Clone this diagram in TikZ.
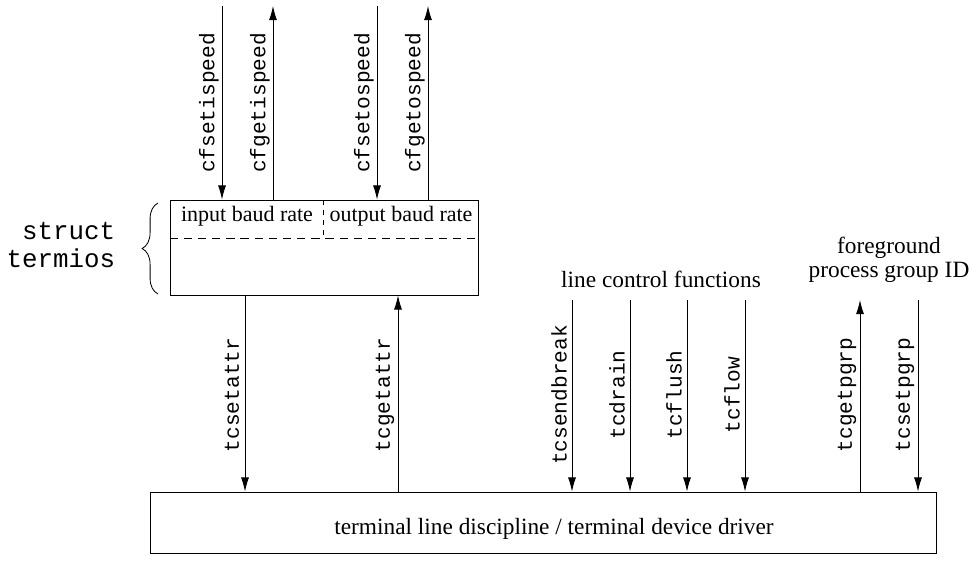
\documentclass[tikz,border=0pt]{standalone}
\usepackage{fontspec}
\setmainfont{Liberation Serif}
\setmonofont{Liberation Mono}
\usetikzlibrary{arrows.meta,decorations.pathreplacing,positioning}

\begin{document}
\begin{tikzpicture}[x=0.6pt,y=-0.6pt,line width=.5pt,
  call/.style={-{Latex[length=8.5pt,width=4.8pt]}},
  fn/.style={font=\fontsize{12.7}{14}\ttfamily,rotate=90},
  txt/.style={font=\fontsize{14}{14.6}\selectfont,align=center},
  field/.style={font=\fontsize{13.2}{14}\selectfont}]
\useasboundingbox (0,0) rectangle (974,569);
% the two boxes
\node[draw,minimum width=184.8pt,minimum height=57pt] (termios) at (324,247.5) {};
\node[draw,minimum width=471.6pt,minimum height=36.6pt] (driver) at (543,522.5) {};
\node[txt] (drvtxt) at (554,529) {terminal line discipline / terminal device driver};
% baud rate fields
\draw[dash pattern=on 5pt off 3.5pt] (termios.west |- 0,238) -- (termios.east |- 0,238);
\draw[dash pattern=on 3pt off 3pt] (termios.north -| 323,0) -- (323,238);
\node[field] (ibr) at (247,216) {input baud rate};
\node[field] (obr) at (401,216) {output baud rate};
\draw[decorate,decoration={brace,amplitude=9.5pt}] (158,294) -- (158,203);
\node[font=\fontsize{15.5}{16.8}\ttfamily,align=right,anchor=east] (st) at (121,245) {struct\\termios};
% speed functions
\foreach \x/\n/\d in {222/cfsetispeed/0,273/cfgetispeed/1,377/cfsetospeed/0,428/cfgetospeed/1}{
  \coordinate (\n) at (\x,6);
  \ifnum\d=0 \draw[call] (\n) -- (\n |- termios.north);
  \else \draw[call] (\n |- termios.north) -- (\n); \fi
  \node[fn] at (\x-13,103) {\n};
}
% attributes
\path (245,0) coordinate (sa) (398,0) coordinate (ga);
\draw[call] (sa |- termios.south) -- (sa |- driver.north);
\draw[call] (ga |- driver.north) -- (ga |- termios.south);
\node[fn] at (232,395) {tcsetattr};
\node[fn] at (385,395) {tcgetattr};
% line control
\node[txt] (lcf) at (661,279) {line control functions};
\foreach \x/\n in {572/tcsendbreak,630/tcdrain,687/tcflush,745/tcflow}{
  \coordinate (\n) at (\x,300);
  \draw[call] (\n) -- (\n |- driver.north);
  \node[fn] at (\x-13,395) {\n};
}
% process group
\node[txt] (fpg) at (889,260) {foreground\\process group ID};
\coordinate (tcgetpgrp) at (860,300);
\coordinate (tcsetpgrp) at (918,300);
\draw[call] (tcgetpgrp |- driver.north) -- (tcgetpgrp);
\draw[call] (tcsetpgrp) -- (tcsetpgrp |- driver.north);
\node[fn] at (847,395) {tcgetpgrp};
\node[fn] at (905,395) {tcsetpgrp};
\end{tikzpicture}
\end{document}
